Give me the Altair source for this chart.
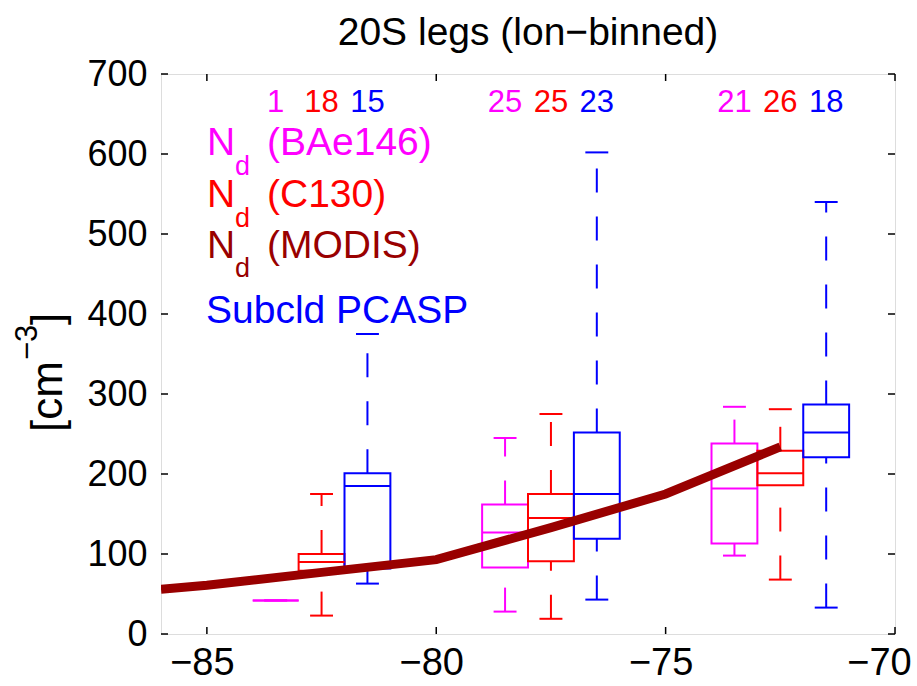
import altair as alt
import pandas as pd

# ---- data ----
box_lon = [-83.5, -82.5, -81.5, -78.5, -77.5, -76.5, -73.5, -72.5, -71.5]
box_source = ["BAe146", "C130", "PCASP", "BAe146", "C130", "PCASP", "BAe146", "C130", "PCASP"]
box_low = [42, 23, 63, 28, 19, 43, 98, 68, 33]
box_q1 = [42, 79, 82, 83, 91, 119, 113, 186, 221]
box_median = [42, 90, 185, 127, 145, 175, 182, 201, 252]
box_q3 = [42, 100, 201, 162, 175, 252, 238, 229, 287]
box_high = [42, 175, 375, 245, 275, 602, 284, 281, 540]
box_count = [1, 18, 15, 25, 25, 23, 21, 26, 18]

modis_lon = [-86, -85, -82.5, -80, -77.5, -75, -72.5]
modis_nd = [56, 61, 77, 93, 133, 175, 234]

x_ticks = [-85, -80, -75, -70]
y_ticks = [0, 100, 200, 300, 400, 500, 600, 700]

sources = ["BAe146", "C130", "PCASP"]
source_colors = ["#ff00ff", "#ff0000", "#0000ff"]
MODIS_COLOR = "#990000"
FONT = "Liberation Sans"

W, H = 734, 560

box_df = pd.DataFrame({
    "lon": box_lon, "source": box_source, "low": box_low, "q1": box_q1,
    "median": box_median, "q3": box_q3, "high": box_high, "count": box_count,
})
modis_df = pd.DataFrame({"lon": modis_lon, "nd": modis_nd})
xt_df = pd.DataFrame({"t": x_ticks})
yt_df = pd.DataFrame({"v": y_ticks})
one_df = pd.DataFrame({"k": [0]})

xscale = alt.Scale(domain=[-86, -70], nice=False, zero=False)
yscale = alt.Scale(domain=[0, 700], nice=False, zero=False)
cscale = alt.Scale(domain=sources, range=source_colors)

xaxis = alt.Axis(values=x_ticks, tickSize=0, domain=False, grid=False, title=None,
                 labelFontSize=38, labelFont=FONT, labelColor="black", labelPadding=10,
                 labelOffset=alt.ExprRef("datum.value >= -70 ? -16 : -5"),
                 labelFlush=False, labelOverlap=False, labelBound=False)
yaxis = alt.Axis(values=y_ticks, tickSize=0, domain=False, grid=False, title=None,
                 labelFontSize=36, labelFont=FONT, labelColor="black", labelPadding=14,
                 labelFlush=False, labelOverlap=False, labelBound=False)


def X(field):
    return alt.X(field, type="quantitative", scale=xscale, axis=xaxis)


def X2(field):
    return alt.X2(field)


def Y(field):
    return alt.Y(field, type="quantitative", scale=yscale, axis=yaxis)


base = alt.Chart(box_df).transform_calculate(
    xl="datum.lon - 0.5", xr="datum.lon + 0.5",
    cl="datum.lon - 0.25", cr="datum.lon + 0.25",
)

boxes = base.mark_rect(fillOpacity=0, strokeWidth=2).encode(
    x=X("xl"), x2=X2("xr"), y=Y("q1"), y2=alt.Y2("q3"),
    stroke=alt.Stroke("source:N", scale=cscale, legend=None),
)
medians = base.mark_rule(strokeWidth=2).encode(
    x=X("xl"), x2=X2("xr"), y=Y("median"),
    color=alt.Color("source:N", scale=cscale, legend=None),
)
upper_whisk = base.mark_rule(strokeWidth=2, strokeDash=[24, 24]).encode(
    x=X("lon"), y=Y("q3"), y2=alt.Y2("high"),
    color=alt.Color("source:N", scale=cscale, legend=None),
)
lower_whisk = base.mark_rule(strokeWidth=2, strokeDash=[24, 24]).encode(
    x=X("lon"), y=Y("low"), y2=alt.Y2("q1"),
    color=alt.Color("source:N", scale=cscale, legend=None),
)
cap_hi = base.mark_rule(strokeWidth=2).encode(
    x=X("cl"), x2=X2("cr"), y=Y("high"),
    color=alt.Color("source:N", scale=cscale, legend=None),
)
cap_lo = base.mark_rule(strokeWidth=2).encode(
    x=X("cl"), x2=X2("cr"), y=Y("low"),
    color=alt.Color("source:N", scale=cscale, legend=None),
)
counts = base.mark_text(fontSize=31, font=FONT, baseline="alphabetic", align="center").encode(
    x=X("lon"), y=alt.value(38), text=alt.Text("count:Q"),
    color=alt.Color("source:N", scale=cscale, legend=None),
)

modis = alt.Chart(modis_df).mark_line(color=MODIS_COLOR, strokeWidth=9, strokeCap="butt", clip=True).encode(
    x=X("lon"), y=Y("nd"),
)

tick_len = 7
xt_bot = alt.Chart(xt_df).mark_rule(color="black", strokeWidth=1.5).encode(
    x=X("t"), y=alt.value(H), y2=alt.value(H - tick_len))
xt_top = alt.Chart(xt_df).mark_rule(color="black", strokeWidth=1.5).encode(
    x=X("t"), y=alt.value(0), y2=alt.value(tick_len))
yt_left = alt.Chart(yt_df).mark_rule(color="black", strokeWidth=1.5).encode(
    y=Y("v"), x=alt.value(0), x2=alt.value(tick_len))
yt_right = alt.Chart(yt_df).mark_rule(color="black", strokeWidth=1.5).encode(
    y=Y("v"), x=alt.value(W), x2=alt.value(W - tick_len))


def label(text, x, y, size, color, angle=0, align="left"):
    return alt.Chart(one_df).mark_text(
        fontSize=size, font=FONT, color=color, align=align, baseline="alphabetic", angle=angle
    ).encode(x=alt.value(x), y=alt.value(y), text=alt.value(text))


annos = [
    label("20S legs (lon\u2212binned)", W / 2, -29, 39, "black", align="center"),
    # legend block
    label("N", 46, 81, 39, "#ff00ff"), label("d", 74, 101, 27, "#ff00ff"), label("(BAe146)", 106, 81, 39, "#ff00ff"),
    label("N", 46, 133, 39, "#ff0000"), label("d", 74, 153, 27, "#ff0000"), label("(C130)", 106, 133, 39, "#ff0000"),
    label("N", 46, 184, 39, MODIS_COLOR), label("d", 74, 203, 27, MODIS_COLOR), label("(MODIS)", 106, 184, 39, MODIS_COLOR),
    label("Subcld PCASP", 45, 249, 39, "#0000ff"),
    # y-axis title [cm^-3]
    label("[cm", -99, 358, 44, "black", angle=270),
    label("\u22123", -124, 286, 31, "black", angle=270),
    label("]", -99, 251, 44, "black", angle=270),
]

chart = alt.layer(
    boxes, medians, upper_whisk, lower_whisk, cap_hi, cap_lo, modis, counts,
    xt_bot, xt_top, yt_left, yt_right, *annos
).properties(
    width=W, height=H,
    autosize=alt.AutoSizeParams(type="none"),
    padding={"left": 161, "top": 74, "right": 22, "bottom": 52},
).configure_view(stroke="black", strokeWidth=2).configure(background="white")

chart.save("out.html", embed_options={"renderer": "svg", "actions": False})
